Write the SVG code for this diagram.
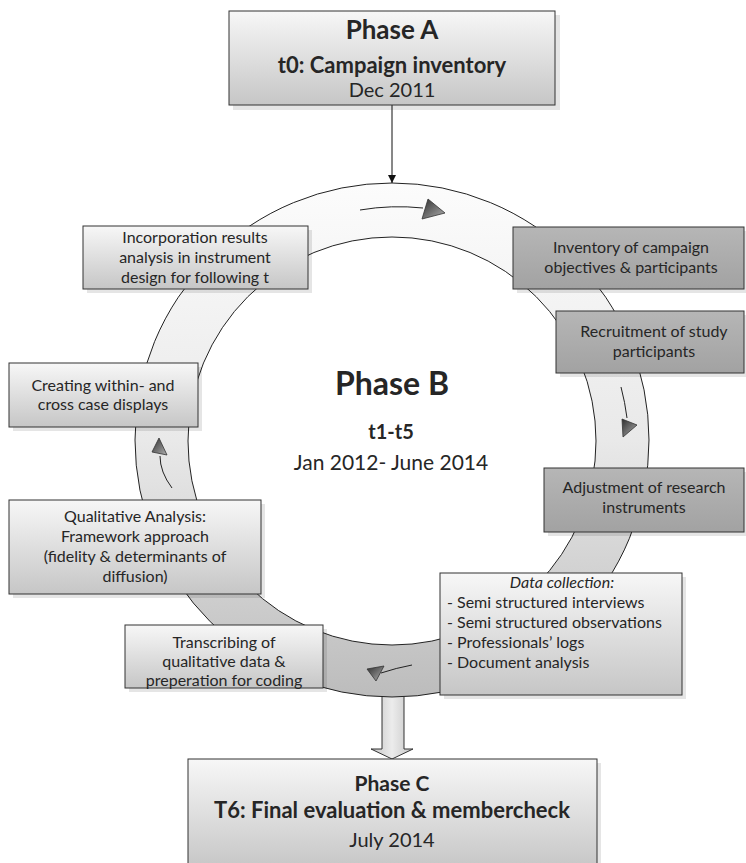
<svg xmlns="http://www.w3.org/2000/svg" width="746" height="863" viewBox="0 0 746 863">
<style>
text{font-family:Lato,"Liberation Sans",sans-serif;fill:#262626}
.t16{font-size:16px}
.c{text-anchor:middle}
.box{stroke:#333;stroke-width:1}
.lt{fill:url(#gLight)}
.dk{fill:url(#gDark)}
.sh{fill:#000;opacity:0.1}
.al{fill:none;stroke:#222;stroke-width:1}
.ah{fill:url(#gHead);stroke:#333;stroke-width:0.8}
</style>
<defs>
<linearGradient id="gLight" x1="0" y1="0" x2="0" y2="1">
<stop offset="0" stop-color="#f7f7f7"/><stop offset="1" stop-color="#c6c6c6"/>
</linearGradient>
<linearGradient id="gDark" x1="0" y1="0" x2="0" y2="1">
<stop offset="0" stop-color="#b6b6b6"/><stop offset="1" stop-color="#a2a2a2"/>
</linearGradient>
<linearGradient id="gRing" x1="0" y1="183" x2="0" y2="697" gradientUnits="userSpaceOnUse">
<stop offset="0" stop-color="#fcfcfc"/><stop offset="0.5" stop-color="#e9e9e9"/><stop offset="1" stop-color="#bcbcbc"/>
</linearGradient>
<linearGradient id="gHead" x1="0" y1="0" x2="1" y2="1">
<stop offset="0" stop-color="#2e2e2e"/><stop offset="1" stop-color="#b0b0b0"/>
</linearGradient>
<linearGradient id="gBlock" x1="0" y1="0" x2="1" y2="0">
<stop offset="0" stop-color="#c4c4c4"/><stop offset="0.5" stop-color="#ececec"/><stop offset="1" stop-color="#c4c4c4"/>
</linearGradient>
<marker id="mArrow" viewBox="0 0 10 10" refX="10" refY="5" markerWidth="8" markerHeight="8" markerUnits="userSpaceOnUse" orient="auto">
<path d="M0,0 L10,5 L0,10 z" fill="#111"/>
</marker>
</defs>

<g id="connectors">
<polygon points="382,690 404,690 404,749 413,749 392,759 371,749 382,749" fill="url(#gBlock)" stroke="#333" stroke-width="1"/>
<path d="M135,440 A257,257 0 1,0 649,440 A257,257 0 1,0 135,440 Z M188,441 A204,204 0 1,1 596,441 A204,204 0 1,1 188,441 Z" fill="url(#gRing)" fill-rule="evenodd" stroke="#222" stroke-width="1"/>
<line x1="392" y1="105" x2="392" y2="183" stroke="#111" stroke-width="1" marker-end="url(#mArrow)"/>
<path class="al" d="M360,210 A231,231 0 0,1 423,208"/>
<polygon class="ah" points="428,199 445,213 422,219"/>
<path class="al" d="M621,387 A235,235 0 0,1 627,418"/>
<polygon class="ah" points="622,419 637,425 623,437"/>
<path class="al" d="M412,665 Q396,668 381,673"/>
<polygon class="ah" points="367,669 384,666 376,681"/>
<path class="al" d="M172,488 Q160,472 160,456"/>
<polygon class="ah" points="152,452 159,438 167,455"/>
</g>

<g id="phaseA">
<rect class="sh" x="233" y="15" width="327" height="95"/>
<rect class="box lt" x="229" y="11" width="326" height="94"/>
<text class="c" x="392" y="39" font-size="26" font-weight="bold">Phase A</text>
<text class="c" x="392" y="73" font-size="22" font-weight="bold">t0: Campaign inventory</text>
<text class="c" x="392" y="97" font-size="20">Dec 2011</text>
</g>

<g id="phaseB">
<text class="c" x="392" y="395" font-size="32" font-weight="bold">Phase B</text>
<text class="c" x="391" y="439" font-size="20" font-weight="bold">t1-t5</text>
<text class="c" x="391" y="470" font-size="21">Jan 2012- June 2014</text>
</g>

<g id="incorporation">
<rect class="sh" x="87" y="230" width="225" height="63"/>
<rect class="box lt" x="83" y="226" width="225" height="63"/>
<text class="t16 c" x="195" y="243">Incorporation results</text>
<text class="t16 c" x="195" y="263">analysis in instrument</text>
<text class="t16 c" x="195" y="283">design for following t</text>
</g>

<g id="inventory">
<rect class="sh" x="517" y="231" width="229" height="62"/>
<rect class="box dk" x="513" y="227" width="231" height="62"/>
<text class="t16 c" x="631" y="253">Inventory of campaign</text>
<text class="t16 c" x="631" y="273">objectives &amp; participants</text>
</g>

<g id="recruitment">
<rect class="sh" x="560" y="315" width="186" height="62"/>
<rect class="box dk" x="556" y="311" width="188" height="62"/>
<text class="t16 c" x="654" y="337">Recruitment of study</text>
<text class="t16 c" x="654" y="357">participants</text>
</g>

<g id="adjustment">
<rect class="sh" x="548" y="472" width="198" height="64"/>
<rect class="box dk" x="544" y="468" width="200" height="64"/>
<text class="t16 c" x="644" y="493">Adjustment of research</text>
<text class="t16 c" x="644" y="513">instruments</text>
</g>

<g id="creating">
<rect class="sh" x="13" y="367" width="189" height="64"/>
<rect class="box lt" x="9" y="363" width="189" height="64"/>
<text class="t16 c" x="103" y="391">Creating within- and</text>
<text class="t16 c" x="103" y="410">cross case displays</text>
</g>

<g id="qualitative">
<rect class="sh" x="13" y="504" width="252" height="94"/>
<rect class="box lt" x="9" y="500" width="252" height="94"/>
<text class="t16 c" x="135" y="522">Qualitative Analysis:</text>
<text class="t16 c" x="135" y="542">Framework approach</text>
<text class="t16 c" x="135" y="562">(fidelity &amp; determinants of</text>
<text class="t16 c" x="135" y="582">diffusion)</text>
</g>

<g id="datacollection">
<rect class="sh" x="444" y="577" width="242" height="122"/>
<rect class="box lt" x="440" y="573" width="242" height="122"/>
<text class="t16 c" x="562" y="588" font-style="italic">Data collection:</text>
<text class="t16" x="447" y="608">- Semi structured interviews</text>
<text class="t16" x="447" y="628">- Semi structured observations</text>
<text class="t16" x="447" y="648">- Professionals’ logs</text>
<text class="t16" x="447" y="668">- Document analysis</text>
</g>

<g id="transcribing">
<rect class="sh" x="129" y="629" width="198" height="63"/>
<rect class="box lt" x="125" y="625" width="198" height="63"/>
<text class="t16 c" x="224" y="648">Transcribing of</text>
<text class="t16 c" x="224" y="667">qualitative data &amp;</text>
<text class="t16 c" x="224" y="686">preperation for coding</text>
</g>

<g id="phaseC">
<rect class="sh" x="192" y="763" width="409" height="110"/>
<rect class="box lt" x="188" y="759" width="409" height="110"/>
<text class="c" x="392" y="791" font-size="21" font-weight="bold">Phase C</text>
<text class="c" x="392" y="818" font-size="22" font-weight="bold">T6: Final evaluation &amp; membercheck</text>
<text class="c" x="392" y="847" font-size="20">July 2014</text>
</g>
</svg>
